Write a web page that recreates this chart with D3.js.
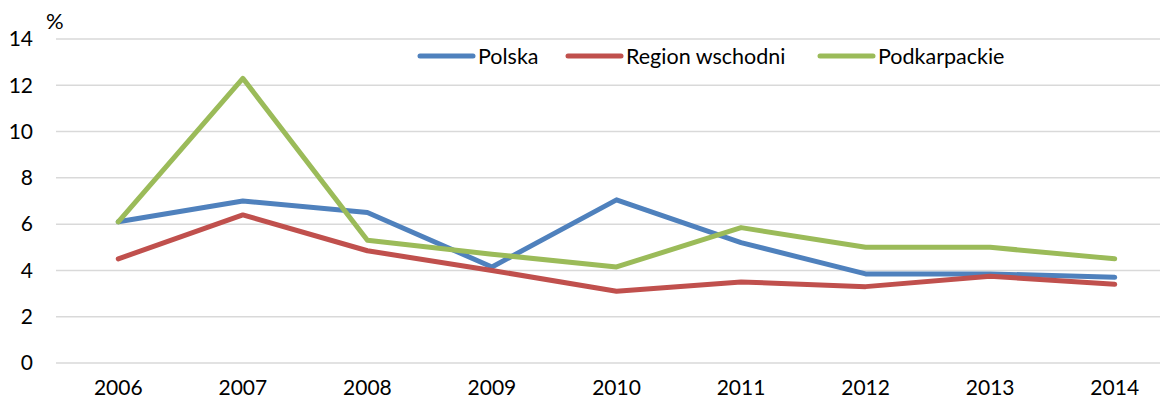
<!DOCTYPE html>
<html>
<head>
<meta charset="utf-8">
<script src="https://cdn.jsdelivr.net/npm/d3@7"></script>
<style>
  body { margin: 0; background: #fff; }
  svg text { font-family: Lato, "Open Sans", sans-serif; fill: #000; }
</style>
</head>
<body>
<div id="chart"></div>
<script>
const years = ['2006', '2007', '2008', '2009', '2010', '2011', '2012', '2013', '2014']
const polska = [6.1, 7.0, 6.5, 4.15, 7.05, 5.2, 3.85, 3.85, 3.7]
const regionWschodni = [4.5, 6.4, 4.85, 4.0, 3.1, 3.5, 3.3, 3.75, 3.4]
const podkarpackie = [6.1, 12.3, 5.3, 4.7, 4.15, 5.85, 5.0, 5.0, 4.5]
const yTicks = [0, 2, 4, 6, 8, 10, 12, 14]
const seriesNames = ['Polska', 'Region wschodni', 'Podkarpackie']
const seriesColors = ['#4F81BD', '#C0504D', '#9BBB59']

const width = 1160,
      height = 403,
      plot = { left: 56, right: 1177, top: 39, bottom: 363 },
      fontSize = 21

const series = [polska, regionWschodni, podkarpackie]

const svg = d3.select('#chart')
  .append('svg')
  .attr('width', width)
  .attr('height', height)

// scales
const x = d3.scalePoint()
  .domain(years)
  .range([plot.left, plot.right])
  .padding(0.5)

const y = d3.scaleLinear()
  .domain([0, 14])
  .range([plot.bottom, plot.top])

// grid lines
svg.append('g')
  .selectAll('line')
  .data(yTicks)
  .enter()
  .append('line')
    .attr('x1', plot.left)
    .attr('x2', plot.right)
    .attr('y1', d => y(d))
    .attr('y2', d => y(d))
    .attr('stroke', '#D9D9D9')
    .attr('stroke-width', 1.5)

// y labels
svg.append('g')
  .selectAll('text')
  .data(yTicks)
  .enter()
  .append('text')
    .attr('x', 33)
    .attr('y', d => y(d))
    .attr('dy', '0.35em')
    .attr('text-anchor', 'end')
    .attr('font-size', fontSize)
    .text(d => d)

// x labels
svg.append('g')
  .selectAll('text')
  .data(years)
  .enter()
  .append('text')
    .attr('x', d => x(d))
    .attr('y', 395)
    .attr('text-anchor', 'middle')
    .attr('font-size', fontSize)
    .text(d => d)

// unit
svg.append('text')
  .attr('x', 46)
  .attr('y', 29)
  .attr('font-size', fontSize + 1)
  .text('%')

// lines
const line = d3.line()
  .x((d, i) => x(years[i]))
  .y(d => y(d))

svg.append('g')
  .selectAll('path')
  .data(series)
  .enter()
  .append('path')
    .attr('d', line)
    .attr('fill', 'none')
    .attr('stroke', (d, i) => seriesColors[i])
    .attr('stroke-width', 5)
    .attr('stroke-linejoin', 'round')
    .attr('stroke-linecap', 'round')

// legend
const legendX = [420, 568, 820]
const legend = svg.append('g')
  .selectAll('g')
  .data(seriesNames)
  .enter()
  .append('g')
    .attr('transform', (d, i) => `translate(${legendX[i]}, 56)`)

legend.append('line')
  .attr('x1', 0)
  .attr('x2', 53)
  .attr('stroke', (d, i) => seriesColors[i])
  .attr('stroke-width', 5)
  .attr('stroke-linecap', 'round')

legend.append('text')
  .attr('x', 58)
  .attr('dy', '0.35em')
  .attr('font-size', 21.5)
  .text(d => d)
</script>
</body>
</html>
